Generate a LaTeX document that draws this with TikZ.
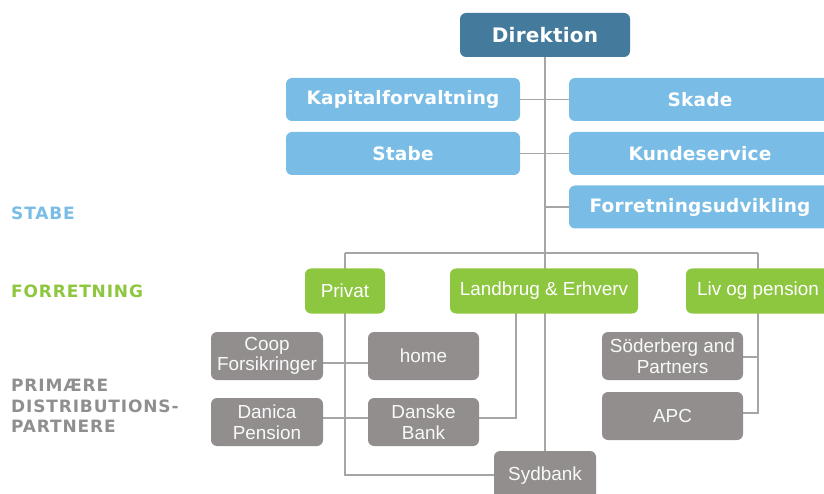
\documentclass[tikz,border=0pt]{standalone}
\usepackage{fontspec}
\setmainfont{Liberation Sans}
\newfontfamily\boldfont{DejaVu Sans}[LetterSpace=1]
\newfontfamily\labelfont{DejaVu Sans}[LetterSpace=5]
\definecolor{dirblue}{HTML}{447A9B}
\definecolor{lblue}{HTML}{79BDE7}
\definecolor{lgreen}{HTML}{8DC63F}
\definecolor{boxgrey}{HTML}{938E8E}
\definecolor{linegrey}{HTML}{A6A6A6}
\definecolor{labgrey}{HTML}{8F8F8F}
\tikzset{
  base/.style={rounded corners=6pt, inner sep=0pt, align=center, text=white},
  topbox/.style={base, font=\boldfont\bfseries\fontsize{18.5}{21}\selectfont},
  dirbox/.style={base, fill=dirblue, minimum width=170pt, minimum height=44pt, font=\boldfont\bfseries\fontsize{20}{23}\selectfont},
  stafbox/.style={topbox, fill=lblue, minimum height=43pt},
  busbox/.style={base, fill=lgreen, minimum height=45pt, font=\fontsize{18.9}{21}\selectfont},
  partbox/.style={base, fill=boxgrey, minimum height=48pt, font=\fontsize{18.9}{20.5}\selectfont, text=white!95!gray},
  conn/.style={draw=linegrey, line width=1.4pt},
  sidelabel/.style={anchor=west, inner sep=0pt, align=left, font=\labelfont\bfseries\fontsize{17}{20.5}\selectfont}
}
\pgfdeclarelayer{bg}\pgfsetlayers{bg,main}
\begin{document}
\begin{tikzpicture}[x=1pt,y=-1pt]
\useasboundingbox (0,0) rectangle (824,494);
\clip (0,0) rectangle (824,494);
% nodes
\node[dirbox] (dir) at (545,35) {Direktion};
\node[stafbox, minimum width=234pt] (kap) at (403,99.5) {Kapitalforvaltning};
\node[stafbox, minimum width=234pt] (stabe) at (403,153.5) {Stabe};
\node[stafbox, minimum width=262pt] (skade) at (700,99.5) {Skade};
\node[stafbox, minimum width=262pt] (kunde) at (700,153.5) {Kundeservice};
\node[stafbox, minimum width=262pt] (forr) at (700,207) {Forretningsudvikling};
\node[busbox, minimum width=80pt] (privat) at (345,291) {Privat};
\node[busbox, minimum width=188pt] (land) at (544,291) {Landbrug \& Erhverv};
\node[busbox, minimum width=144pt] (liv) at (758,291) {Liv og pension};
\node[partbox, minimum width=112pt] (coop) at (267,356) {Coop\\Forsikringer};
\node[partbox, minimum width=111pt] (home) at (423.5,356) {home};
\node[partbox, minimum width=112pt] (danica) at (267,422) {Danica\\Pension};
\node[partbox, minimum width=111pt] (danske) at (423.5,422) {Danske\\Bank};
\node[partbox, minimum width=141pt] (sod) at (672.5,356) {Söderberg and\\Partners};
\node[partbox, minimum width=141pt] (apc) at (672.5,416) {APC};
\node[partbox, minimum width=102pt, minimum height=50pt] (syd) at (545,476) {Sydbank};
% junction coordinates
\coordinate (busc) at (545,253);
\coordinate (busl) at (345,253);
\coordinate (busr) at (758,253);
\coordinate (pl) at (345,475);
\coordinate (lb) at (516,313);
\coordinate (ld) at (516,418);
% connectors
\begin{pgfonlayer}{bg}
\draw[conn] (dir.south) -- (busc);
\draw[conn] (kap.east) -- (skade.west);
\draw[conn] (stabe.east) -- (kunde.west);
\draw[conn] (busc |- forr.west) -- (forr.west);
\draw[conn] (busl) -- (busr);
\draw[conn] (busl) -- (pl) -- (syd.west |- pl);
\draw[conn] (busc) -- (syd.north);
\draw[conn] (lb) -- (ld) -- (danske.east |- ld);
\draw[conn] (coop.east |- 0,363) -- (home.west |- 0,363);
\draw[conn] (danica.east |- 0,418) -- (danske.west |- 0,418);
\draw[conn] (busr) -- (758,413) -- (apc.east |- 0,413);
\draw[conn] (758,357) -- (sod.east |- 0,357);
\end{pgfonlayer}
% side labels
\node[sidelabel, text=lblue] (lstabe) at (11,213) {STABE};
\node[sidelabel, text=lgreen] (lforr) at (11,291) {FORRETNING};
\node[sidelabel, text=labgrey] (lprim) at (11,406) {PRIMÆRE\\DISTRIBUTIONS-\\PARTNERE};
\end{tikzpicture}
\end{document}
